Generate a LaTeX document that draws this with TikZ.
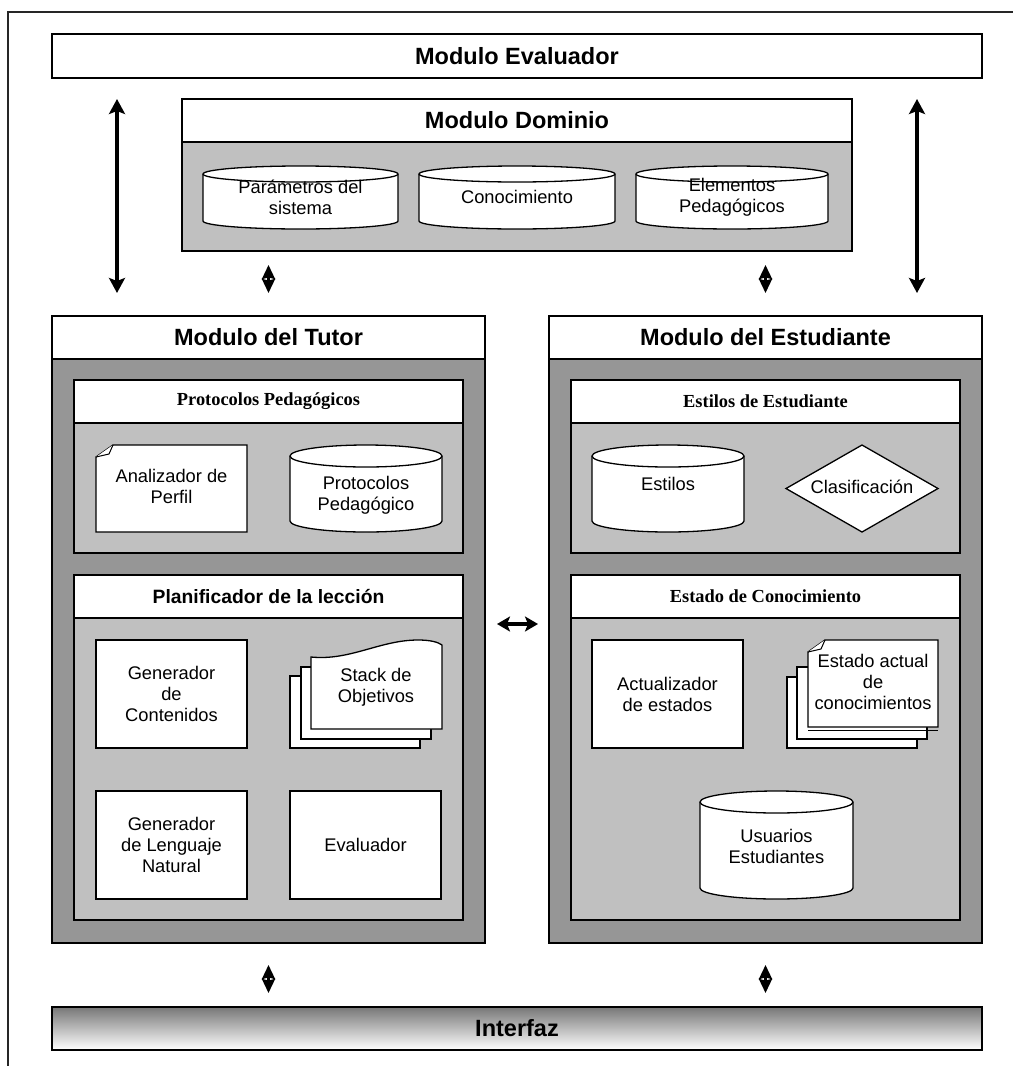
\documentclass[tikz,border=0pt]{standalone}
\usepackage{fontspec}
\setmainfont{Liberation Sans}
\newfontfamily\tmsfont{Liberation Serif}
\usetikzlibrary{arrows.meta}
\definecolor{dkgray}{HTML}{969696}
\definecolor{ltgray}{HTML}{C0C0C0}
\definecolor{shadetop}{HTML}{777777}
% box node from corner coordinates: [style]{name}{x1}{y1}{x2}{y2}{text}
\newcommand\bx[7][]{\node[box,#1,minimum width={(#5-#3)*1pt},minimum height={(#6-#4)*1pt}] (#2) at (#3,#4) {#7};}
% cylinder: {name}{x1}{y1}{x2}{y2}{ry}{text}{text y}
\newcommand\cyl[8]{%
  \pgfmathsetmacro\rxv{(#4-#2)/2}%
  \filldraw[item] (#2,#3+#6) -- (#2,#5-#6) arc[start angle=180,end angle=360,x radius=\rxv pt,y radius=#6pt] -- (#4,#3+#6) arc[start angle=0,end angle=180,x radius=\rxv pt,y radius=#6pt] -- cycle;
  \draw[item] (#2,#3+#6) arc[start angle=180,end angle=360,x radius=\rxv pt,y radius=#6pt];
  \node[txt] (#1) at ({(#2+#4)/2},#8) {#7};}
% page with folded top-left corner: x1 y1 x2 y2
\newcommand\foldpage[4]{%
  \filldraw[item] (#1+17,#2) -- (#3,#2) -- (#3,#4) -- (#1,#4) -- (#1,#2+12) -- cycle;
  \draw[item, line width=1pt, line join=round] (#1,#2+12) -- (#1+13,#2+9) -- (#1+17,#2);}
\begin{document}
\begin{tikzpicture}[x=1pt,y=-1pt,
  box/.style={draw=black, line width=1.5pt, inner sep=0pt, outer sep=0pt, anchor=north west, align=center},
  item/.style={draw=black, line width=1.3pt, fill=white, line join=miter},
  itembox/.style={line width=1.3pt, fill=white, txt},
  title/.style={font=\fontsize{23.5}{28}\selectfont\bfseries},
  subt/.style={font=\fontsize{19.3}{23}\selectfont\bfseries},
  subtser/.style={font=\tmsfont\fontsize{18.4}{22}\selectfont\bfseries},
  txt/.style={font=\fontsize{18.3}{21}\selectfont, align=center, inner sep=0pt},
  bigarr/.style={line width=4pt, {Stealth[length=15pt,width=16pt,inset=3pt]}-{Stealth[length=15pt,width=16pt,inset=3pt]}},
  smallarr/.style={line width=2.5pt, {Stealth[length=14pt,width=13pt,inset=1.5pt]}-{Stealth[length=14pt,width=13pt,inset=1.5pt]}},
  harr/.style={line width=3.5pt, {Stealth[length=13pt,width=15pt,inset=3pt]}-{Stealth[length=13pt,width=15pt,inset=3pt]}},
  frame/.style={line width=2pt, draw=black!85}
]
\useasboundingbox (0,0) rectangle (1013,1066);
% outer frame (only top and left edges visible)
\coordinate (fbl) at (8,1066);
\coordinate (ftl) at (8,12);
\coordinate (ftr) at (1013,12);
\draw[frame] (fbl) -- (ftl) -- (ftr);

% Modulo Evaluador
\bx[fill=white,title]{eval}{52}{34}{982}{78}{Modulo Evaluador}

% Modulo Dominio
\bx[fill=ltgray]{dom}{182}{99}{852}{251}{}
\bx[fill=white,title]{domh}{182}{99}{852}{142}{Modulo Dominio}
\cyl{c1}{203}{166}{398}{229}{8}{Parámetros del\\sistema}{197}
\cyl{c2}{419}{166}{615}{229}{8}{Conocimiento}{197}
\cyl{c3}{636}{166}{828}{229}{8}{Elementos\\Pedagógicos}{197}

% Modulo del Tutor
\bx[fill=dkgray]{tutor}{52}{316}{485}{943}{}
\bx[fill=white,title]{tutorh}{52}{316}{485}{359}{Modulo del Tutor}
\bx[fill=ltgray]{prot}{74}{380}{463}{553}{}
\bx[fill=white,subtser]{proth}{74}{380}{463}{423}{Protocolos Pedagógicos}
\foldpage{96}{445}{247}{532}
\node[txt] (anal) at (171.5,486) {Analizador de\\Perfil};
\cyl{pcyl}{290}{445}{442}{532}{11}{Protocolos\\Pedagógico}{495}
\bx[fill=ltgray]{plan}{74}{575}{463}{920}{}
\bx[fill=white,subt]{planh}{74}{575}{463}{618}{Planificador de la lección}
\bx[itembox]{gencont}{96}{640}{247}{748}{Generador\\de\\Contenidos}
% stack of pages (wavy top)
\filldraw[item] (290,676) rectangle (420,748);
\filldraw[item] (301,667) rectangle (431,739);
\filldraw[item] (311,657) .. controls (350,661) and (380,640) .. (418,640) .. controls (430,640) and (438,642) .. (442,645) -- (442,729) -- (311,729) -- cycle;
\node[txt] (stack) at (376,687) {Stack de\\Objetivos};
\bx[itembox]{genleng}{96}{791}{247}{899}{Generador\\de Lenguaje\\Natural}
\bx[itembox]{evalu}{290}{791}{441}{899}{Evaluador}

% Modulo del Estudiante
\bx[fill=dkgray]{estud}{549}{316}{982}{943}{}
\bx[fill=white,title]{estudh}{549}{316}{982}{359}{Modulo del Estudiante}
\bx[fill=ltgray]{estil}{571}{380}{960}{553}{}
\bx[fill=white,subtser]{estilh}{571}{380}{960}{423}{Estilos de Estudiante}
\cyl{ecyl}{592}{445}{744}{532}{11}{Estilos}{484}
\filldraw[item] (786,488.5) -- (862,445) -- (938,488.5) -- (862,532) -- cycle;
\node[txt] (clas) at (862,487) {Clasificación};
\bx[fill=ltgray]{estado}{571}{575}{960}{920}{}
\bx[fill=white,subtser]{estadoh}{571}{575}{960}{618}{Estado de Conocimiento}
\bx[itembox]{actual}{592}{640}{743}{748}{Actualizador\\de estados}
\filldraw[item] (787,677) rectangle (917,748);
\filldraw[item] (797,667) rectangle (927,739);
\foldpage{808}{640}{938}{727}
\draw[line width=1pt] (808,730.5) -- (938,730.5);
\node[txt] (estact) at (873,682) {Estado actual\\de\\conocimientos};
\cyl{ucyl}{700}{791}{853}{899}{11}{Usuarios\\Estudiantes}{846}

% Interfaz
\node[box, top color=shadetop, bottom color=white, title, minimum width=930pt, minimum height=43pt] (interfaz) at (52,1007) {Interfaz};

% connectors
\draw[bigarr, shorten <=21pt, shorten >=23pt] ([xshift=65pt]eval.south west) -- ([xshift=65pt]tutor.north west);
\draw[bigarr, shorten <=21pt, shorten >=23pt] ([xshift=-65pt]eval.south east) -- ([xshift=-65pt]estud.north east);
\draw[smallarr, shorten <=14pt, shorten >=23pt] (tutor.north |- dom.south) -- (tutor.north);
\draw[smallarr, shorten <=14pt, shorten >=23pt] (estud.north |- dom.south) -- (estud.north);
\draw[smallarr, shorten <=22pt, shorten >=14pt] (tutor.south) -- (tutor.south |- interfaz.north);
\draw[smallarr, shorten <=22pt, shorten >=14pt] (estud.south) -- (estud.south |- interfaz.north);
\draw[harr, shorten <=12pt, shorten >=11pt] ([yshift=5.5pt]tutor.east) -- ([yshift=5.5pt]estud.west);
\end{tikzpicture}
\end{document}
